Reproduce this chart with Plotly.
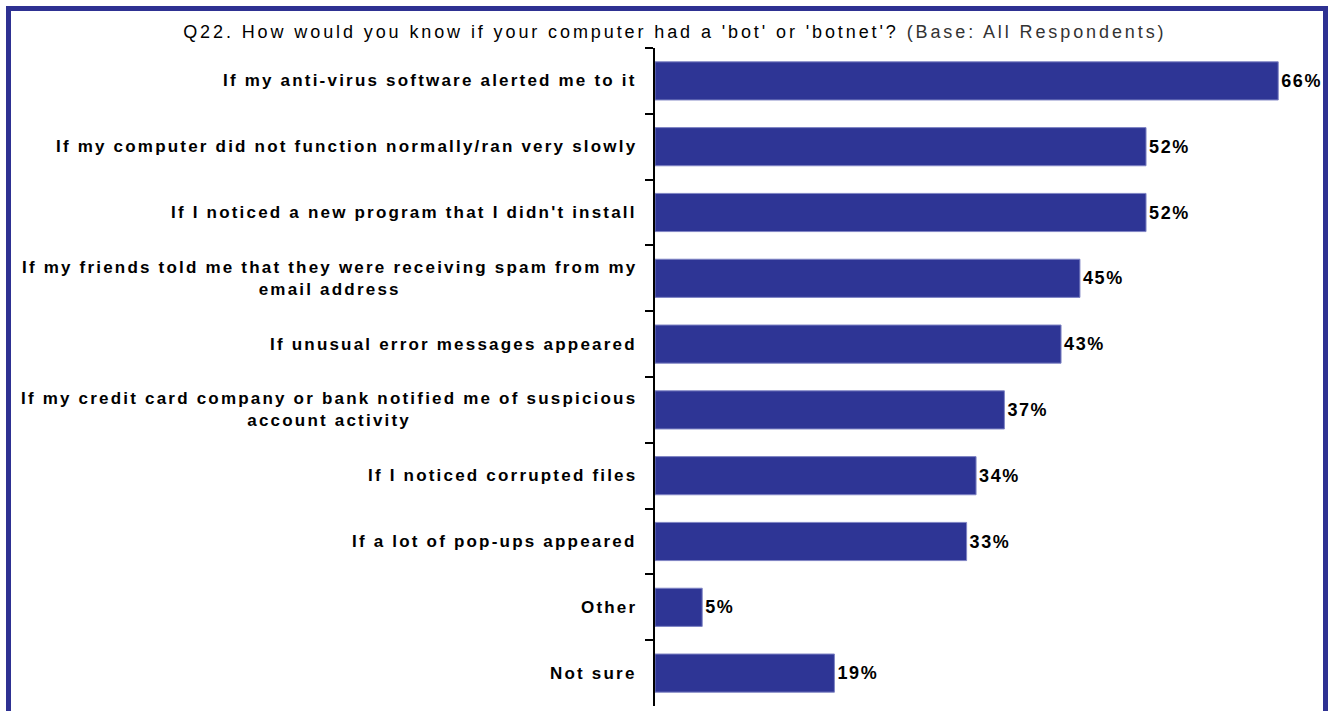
import plotly.graph_objects as go

# Survey responses, top to bottom as listed
categories = [
    "If my anti-virus software alerted me to it",
    "If my computer did not function normally/ran very slowly",
    "If I noticed a new program that I didn't install",
    "If my friends told me that they were receiving spam from my<br>email address",
    "If unusual error messages appeared",
    "If my credit card company or bank notified me of suspicious<br>account activity",
    "If I noticed corrupted files",
    "If a lot of pop-ups appeared",
    "Other",
    "Not sure",
]
values = [66, 52, 52, 45, 43, 37, 34, 33, 5, 19]

BAR_COLOR = "#2E3595"
FRAME_COLOR = "#2E3192"
FONT = "Arial, Liberation Sans, sans-serif"

W, H = 1331, 711
ML, MR, MT, MB = 655, 15, 48, 5


def spaced(text, px):
    """Wrap text in a span with extra letter spacing."""
    return f"<span style='letter-spacing:{px}px'>{text}</span>"


fig = go.Figure(
    go.Bar(
        x=values,
        y=categories,
        orientation="h",
        marker=dict(color=BAR_COLOR, line=dict(color="#7F84C4", width=1)),
        width=0.58,
        text=[spaced(f"{v}%", 1.6) for v in values],
        textposition="outside",
        textfont=dict(family=FONT, size=18, color="black", weight="bold"),
        cliponaxis=False,
        hoverinfo="skip",
    )
)

# Category labels, right aligned against the axis with centred line wrapping
for cat in categories:
    fig.add_annotation(
        x=0, xref="paper", xanchor="right", xshift=-16,
        y=cat, yref="y", yanchor="middle",
        text="<br>".join(f"<b>{spaced(line, 2.2)}</b>" for line in cat.split("<br>")),
        showarrow=False, align="center",
        font=dict(family=FONT, size=17, color="black"),
    )

# Blue frame around the chart
pw, ph = W - ML - MR, H - MT - MB


def px_x(p):
    return (p - ML) / pw


def px_y(p):
    return 1 - (p - MT) / ph


fig.add_shape(
    type="rect", xref="paper", yref="paper",
    x0=px_x(8.5), x1=px_x(1325.5), y0=px_y(716), y1=px_y(8.5),
    line=dict(color=FRAME_COLOR, width=5), layer="above",
)

fig.update_layout(
    width=W, height=H,
    margin=dict(l=ML, r=MR, t=MT, b=MB),
    paper_bgcolor="white", plot_bgcolor="white",
    showlegend=False,
    title=dict(
        text=spaced("Q22. How would you know if your computer had a 'bot' or 'botnet'? ", 2.9)
        + "<span style='letter-spacing:2.9px;color:#333333'>(Base: All Respondents)</span>",
        x=0.507, xanchor="center", y=1 - 32 / H, yanchor="middle",
        font=dict(family=FONT, size=18, color="black"),
    ),
    xaxis=dict(range=[0, 70], visible=False, fixedrange=True),
    yaxis=dict(
        autorange="reversed", showticklabels=False,
        showline=True, linecolor="black", linewidth=1.5,
        ticks="outside", tickson="boundaries", ticklen=8, tickcolor="black",
        tickwidth=1.5, showgrid=False, zeroline=False, fixedrange=True,
    ),
)

fig.write_html("out.html")
